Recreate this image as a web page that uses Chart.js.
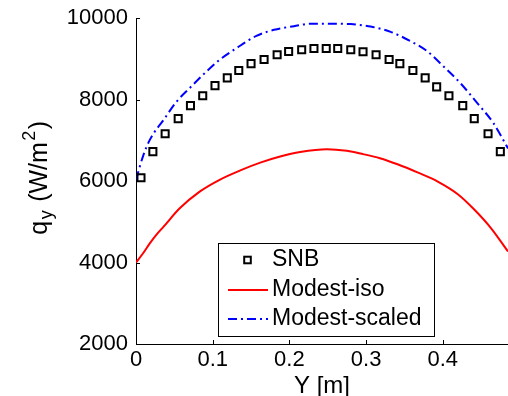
<!DOCTYPE html>
<html><head><meta charset="utf-8">
<script src="https://cdn.jsdelivr.net/npm/chart.js@4/dist/chart.umd.min.js"></script>
<style>html,body{margin:0;padding:0;background:#fff;overflow:hidden}#wrap{width:508px;height:396px}</style>
</head><body><div id="wrap"><canvas id="c" width="508" height="396"></canvas></div>
<script>
// ---- data ----
const seriesNames = ['SNB', 'Modest-iso', 'Modest-scaled'];
const snbX = [0.0065,0.022,0.038,0.055,0.071,0.087,0.103,0.119,0.134,0.150,0.167,0.184,0.199,0.216,0.232,0.248,0.263,0.280,0.296,0.313,0.330,0.344,0.361,0.377,0.392,0.408,0.426,0.441,0.459,0.475];
const snbY = [6080,6720,7160,7530,7850,8090,8340,8530,8710,8880,8980,9100,9180,9220,9250,9250,9250,9220,9170,9100,8980,8880,8710,8530,8310,8090,7850,7530,7160,6720];
const isoX = [0,0.009,0.018,0.027,0.036,0.057,0.083,0.109,0.136,0.162,0.188,0.214,0.249,0.275,0.296,0.318,0.341,0.367,0.394,0.420,0.441,0.463,0.485];
const isoY = [4000,4220,4470,4690,4880,5330,5740,6030,6260,6450,6600,6710,6780,6740,6660,6560,6410,6210,5980,5670,5300,4840,4270];
const scX = [0,0.009,0.018,0.036,0.053,0.070,0.092,0.109,0.131,0.157,0.180,0.206,0.228,0.254,0.280,0.306,0.332,0.358,0.380,0.401,0.423,0.445,0.466,0.485];
const scY = [6030,6600,7010,7500,7950,8280,8690,8975,9260,9560,9710,9800,9860,9860,9850,9790,9660,9430,9180,8810,8400,7910,7420,6800];
const xTicks = [0, 0.1, 0.2, 0.3, 0.4];
const xTickLabels = ['0', '0.1', '0.2', '0.3', '0.4'];
const yTicks = [2000, 4000, 6000, 8000, 10000];
const yTickLabels = ['2000', '4000', '6000', '8000', '10000'];
const xTitle = 'Y [m]';
const yTitleParts = [['q', 'n'], ['y', 'sub'], [' (W/m', 'n'], ['2', 'sup'], [')', 'n']];

const FONT = 'Arial, "Liberation Sans", Helvetica, sans-serif';
const pts = (xs, ys) => xs.map((v, i) => ({x: v, y: ys[i]}));

const inwardTicks = {
  id: 'inwardTicks',
  afterDatasetsDraw(chart) {
    const {ctx, chartArea: a, scales: {x, y}} = chart;
    ctx.save(); ctx.strokeStyle = '#000'; ctx.lineWidth = 1;
    ctx.beginPath();
    xTicks.forEach(v => { const px = Math.round(x.getPixelForValue(v)) + 0.5; ctx.moveTo(px, a.bottom); ctx.lineTo(px, a.bottom - 4); });
    yTicks.forEach(v => { const py = Math.round(y.getPixelForValue(v)) + 0.5; ctx.moveTo(a.left, py); ctx.lineTo(a.left + 4, py); });
    ctx.stroke(); ctx.restore();
  }
};

const yTitlePlugin = {
  id: 'yTitle',
  afterDraw(chart) {
    const {ctx} = chart;
    ctx.save();
    ctx.fillStyle = '#000';
    ctx.translate(47, 177);
    ctx.rotate(-Math.PI / 2);
    ctx.textBaseline = 'alphabetic';
    const fonts = {n: '25px ' + FONT, sub: '18px ' + FONT, sup: '18px ' + FONT};
    const shift = {n: 0, sub: 5, sup: -12};
    let total = 0;
    const gap = 1.5;
    const widths = yTitleParts.map(([t, k]) => { ctx.font = fonts[k]; const w = ctx.measureText(t).width + gap; total += w; return w; });
    let cx = -total / 2;
    yTitleParts.forEach(([t, k], i) => { ctx.font = fonts[k]; ctx.fillText(t, cx, shift[k]); cx += widths[i]; });
    ctx.restore();
  }
};

const legendPlugin = {
  id: 'boxLegend',
  afterDraw(chart) {
    const {ctx} = chart;
    const ds = chart.data.datasets;
    const bx = 218.5, by = 243.5, bw = 216, bh = 93;
    ctx.save();
    ctx.fillStyle = '#fff'; ctx.fillRect(bx, by, bw, bh);
    ctx.strokeStyle = '#000'; ctx.lineWidth = 1; ctx.strokeRect(bx, by, bw, bh);
    const rows = [260, 290, 319];
    ds.forEach((d, i) => {
      const cy = rows[i];
      if (d.showLine === false) {
        ctx.lineWidth = d.borderWidth; ctx.strokeStyle = d.borderColor; ctx.setLineDash([]);
        ctx.strokeRect(247.5 - 3.3, cy - 3.3, 6.6, 6.6);
      } else {
        ctx.lineWidth = d.borderWidth; ctx.strokeStyle = d.borderColor; ctx.setLineDash(d.borderDash || []);
        ctx.beginPath(); ctx.moveTo(228, cy); ctx.lineTo(268, cy); ctx.stroke();
      }
      ctx.setLineDash([]);
      ctx.fillStyle = '#000'; ctx.font = '23px ' + FONT; ctx.textBaseline = 'middle'; ctx.textAlign = 'left';
      ctx.fillText(d.label, 272, cy);
    });
    ctx.restore();
  }
};

new Chart(document.getElementById('c'), {
  type: 'line',
  data: {
    datasets: [
      {label: seriesNames[0], data: pts(snbX, snbY), showLine: false, pointStyle: 'rect', pointRadius: 5, pointBorderWidth: 2, borderWidth: 2, borderColor: '#000', pointBorderColor: '#000', pointBackgroundColor: 'rgba(0,0,0,0)', order: 0, clip: false},
      {label: seriesNames[1], data: pts(isoX, isoY), borderColor: '#ff0000', borderWidth: 2, pointRadius: 0, cubicInterpolationMode: 'monotone', fill: false, order: 1},
      {label: seriesNames[2], data: pts(scX, scY), borderColor: '#0000ff', borderWidth: 2, borderDash: [9, 4, 2, 4], pointRadius: 0, cubicInterpolationMode: 'monotone', fill: false, order: 2}
    ]
  },
  options: {
    responsive: false, animation: false, devicePixelRatio: 1,
    layout: {autoPadding: false, padding: {top: 18, left: 0, right: 0, bottom: 0}},
    plugins: {legend: {display: false}, tooltip: {enabled: false}},
    scales: {
      x: {
        type: 'linear', min: 0, max: 0.485,
        afterBuildTicks: s => { s.ticks = xTicks.map(v => ({value: v})); },
        afterFit: s => { s.height = 52; s.paddingLeft = 0; s.paddingRight = 0; },
        grid: {display: true, drawOnChartArea: false, drawTicks: false},
        border: {display: true, color: '#000', width: 1},
        ticks: {color: '#000', font: {family: FONT, size: 22}, padding: 3, maxRotation: 0,
          callback: v => xTickLabels[xTicks.findIndex(t => Math.abs(t - v) < 1e-9)]},
        title: {display: true, text: xTitle, color: '#000', font: {family: FONT, size: 24}, padding: {top: 0, bottom: -5}}
      },
      y: {
        type: 'linear', min: 2000, max: 10000,
        afterBuildTicks: s => { s.ticks = yTicks.map(v => ({value: v})); },
        afterFit: s => { s.width = 136; s.paddingTop = 0; s.paddingBottom = 0; },
        grid: {display: true, drawOnChartArea: false, drawTicks: false},
        border: {display: true, color: '#000', width: 1},
        ticks: {color: '#000', font: {family: FONT, size: 22}, padding: 8,
          callback: v => yTickLabels[yTicks.indexOf(v)]}
      }
    }
  },
  plugins: [inwardTicks, yTitlePlugin, legendPlugin]
});
</script>
</body></html>
